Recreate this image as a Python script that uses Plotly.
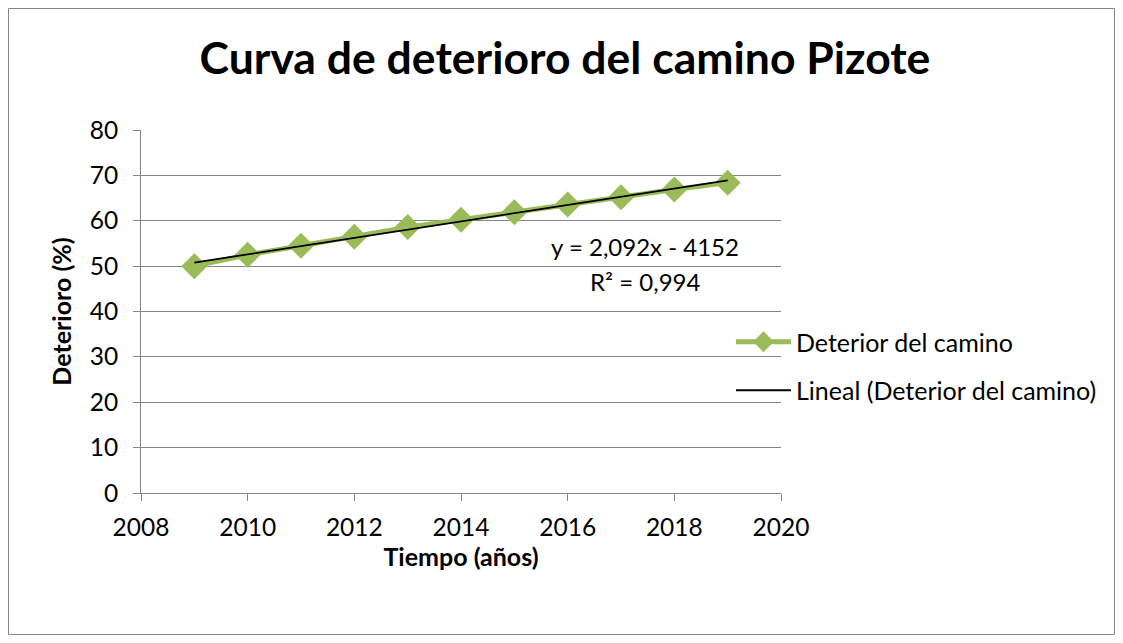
import numpy as np
import plotly.graph_objects as go

years = [2009, 2010, 2011, 2012, 2013, 2014, 2015, 2016, 2017, 2018, 2019]
deterioro = [50.0, 52.5, 54.5, 56.5, 58.6, 60.2, 61.9, 63.6, 65.2, 66.9, 68.4]
x_ticks = [2008, 2010, 2012, 2014, 2016, 2018, 2020]
y_ticks = [0, 10, 20, 30, 40, 50, 60, 70, 80]

series_name = "Deterior del camino"
trend_name = "Lineal (Deterior del camino)"
eq_text = "y = 2,092x - 4152"
r2_text = "R² = 0,994"

slope, intercept = np.polyfit(years, deterioro, 1)
trend_x = [years[0], years[-1]]
trend_y = [slope * v + intercept for v in trend_x]

FONT = "Lato"
GRAY = "#868686"
GREEN = "#9BBB59"

OFF = 8  # page body margin
W, H = 1123 - 2 * OFF, 643 - 2 * OFF
L, T = 141 - OFF, 130 - OFF
PW, PH = 640, 363
R, B = W - L - PW, H - T - PH


def px(xpage):
    return (xpage - OFF - L) / PW


def py(ypage):
    return (H - B - (ypage - OFF)) / PH


fig = go.Figure()
fig.add_trace(go.Scatter(
    x=years, y=deterioro, name=series_name, mode="lines+markers",
    legendgroup="a",
    line=dict(color=GREEN, width=5),
    marker=dict(symbol="diamond", size=20, color=GREEN),
))
fig.add_trace(go.Scatter(
    x=trend_x, y=trend_y, name=trend_name, mode="lines",
    legendgroup="b",
    line=dict(color="black", width=1.8),
))

fig.update_layout(
    width=W, height=H,
    margin=dict(l=L, r=R, t=T, b=B),
    paper_bgcolor="white", plot_bgcolor="white",
    font=dict(family=FONT, size=24.5, color="black"),
    title=dict(text="<b>Curva de deterioro del camino Pizote</b>",
               x=(565 - OFF) / W, xanchor="center", y=1 - (58 - OFF) / H,
               yanchor="middle",
               font=dict(family=FONT, size=44.5, color="black")),
    showlegend=True,
    legend=dict(x=px(731), y=py(366), xanchor="left", yanchor="middle",
                font=dict(family=FONT, size=25), itemwidth=55,
                tracegroupgap=13, bgcolor="rgba(0,0,0,0)",
                traceorder="grouped"),
    xaxis=dict(range=[2008, 2020], tickvals=x_ticks, showgrid=False,
               showline=True, linecolor=GRAY, linewidth=1,
               ticks="outside", ticklen=7, tickcolor=GRAY,
               ticklabelstandoff=6,
               zeroline=False, tickfont=dict(size=24.5),
               title=dict(text="<b>Tiempo (años)</b>", standoff=0,
                          font=dict(size=25))),
    yaxis=dict(range=[0, 80], tickvals=y_ticks, showgrid=True,
               gridcolor=GRAY, gridwidth=1,
               showline=True, linecolor=GRAY, linewidth=1,
               ticks="outside", ticklen=7, tickcolor=GRAY,
               ticklabelstandoff=10,
               zeroline=False, tickfont=dict(size=24.5),
               title=dict(text="<b>Deterioro (%)</b>", standoff=10,
                          font=dict(size=25))),
    annotations=[
        dict(text=eq_text, xref="paper", yref="paper", x=px(645), y=py(246),
             xanchor="center", yanchor="middle", showarrow=False,
             font=dict(family=FONT, size=24)),
        dict(text=r2_text, xref="paper", yref="paper", x=px(645), y=py(281),
             xanchor="center", yanchor="middle", showarrow=False,
             font=dict(family=FONT, size=24)),
    ],
    shapes=[dict(type="rect", xref="paper", yref="paper",
                 x0=px(OFF + 0.5), x1=px(OFF + W - 0.5),
                 y0=py(OFF + H - 0.5), y1=py(OFF + 0.5),
                 line=dict(color=GRAY, width=1), layer="below")],
)

fig.write_html("out.html")
